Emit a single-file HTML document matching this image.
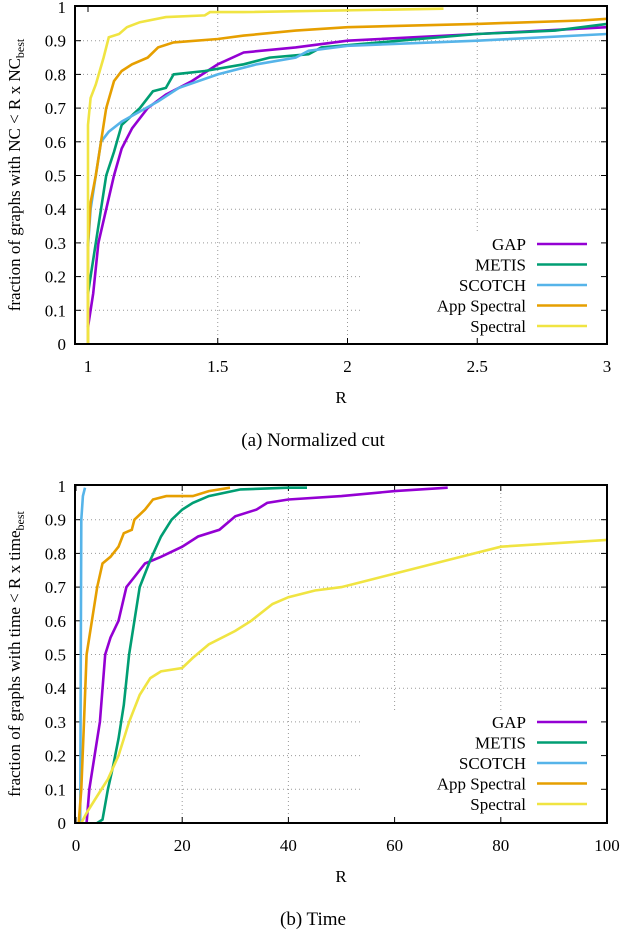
<!DOCTYPE html>
<html><head><meta charset="utf-8"><style>
body{margin:0;background:#fff;}
svg{display:block;font-family:"Liberation Serif",serif;}
</style></head><body>
<svg id="s" width="626" height="934" xmlns="http://www.w3.org/2000/svg"></svg>
<script>
const names=["GAP","METIS","SCOTCH","App Spectral","Spectral"];
const colors=["#9400d3","#009e73","#56b4e9","#e69f00","#f0e442"];
// Chart A: normalized cut  [R, fraction]
const ncGAP=[[1,0.05],[1.02,0.15],[1.04,0.3],[1.07,0.4],[1.1,0.5],[1.13,0.58],[1.17,0.64],[1.23,0.7],[1.3,0.74],[1.4,0.78],[1.5,0.83],[1.6,0.865],[1.8,0.88],[2,0.9],[2.5,0.92],[3,0.94]];
const ncMETIS=[[1,0.15],[1.01,0.2],[1.03,0.3],[1.05,0.4],[1.07,0.5],[1.1,0.57],[1.13,0.65],[1.2,0.7],[1.25,0.75],[1.3,0.76],[1.33,0.8],[1.45,0.81],[1.6,0.83],[1.7,0.85],[1.85,0.86],[1.9,0.88],[2.2,0.9],[2.5,0.92],[2.8,0.93],[3,0.95]];
const ncSCOTCH=[[1,0.29],[1.01,0.4],[1.03,0.5],[1.05,0.6],[1.08,0.63],[1.13,0.66],[1.2,0.69],[1.27,0.72],[1.35,0.76],[1.5,0.8],[1.65,0.83],[1.8,0.85],[1.85,0.87],[2,0.885],[2.5,0.9],[3,0.92]];
const ncApp=[[1,0],[1,0.3],[1.01,0.42],[1.03,0.5],[1.05,0.6],[1.07,0.7],[1.1,0.78],[1.13,0.81],[1.17,0.83],[1.23,0.85],[1.27,0.88],[1.33,0.895],[1.5,0.905],[1.6,0.915],[1.8,0.93],[2,0.94],[2.5,0.95],[2.9,0.96],[3,0.965]];
const ncSpec=[[1,0],[1,0.65],[1.01,0.73],[1.03,0.77],[1.06,0.85],[1.08,0.91],[1.12,0.92],[1.15,0.94],[1.2,0.955],[1.3,0.97],[1.45,0.975],[1.47,0.985],[1.6,0.985],[2.37,0.995]];
const xTicksA=[1,1.5,2,2.5,3];
// Chart B: time
const tGAP=[[2,0],[2.5,0.1],[3.5,0.2],[4.5,0.3],[5.5,0.5],[6.5,0.55],[8,0.6],[9.5,0.7],[11,0.73],[13,0.77],[16,0.79],[20,0.82],[23,0.85],[27,0.87],[30,0.91],[34,0.93],[36,0.95],[40,0.96],[50,0.97],[60,0.985],[70,0.995]];
const tMETIS=[[4,0],[5,0.01],[6,0.1],[7,0.17],[8,0.25],[9,0.35],[10,0.5],[11,0.6],[12,0.7],[14,0.78],[16,0.85],[18,0.9],[20,0.93],[22,0.95],[25,0.97],[31,0.99],[40,0.995],[43.5,0.995]];
const tSCOTCH=[[0.8,0],[0.9,0.5],[1.0,0.9],[1.3,0.97],[1.7,0.995]];
const tApp=[[0.5,0],[1,0.1],[1.5,0.3],[2,0.5],[3,0.6],[4,0.7],[5,0.77],[6.5,0.79],[8,0.82],[9,0.86],[10.5,0.87],[11,0.9],[13,0.93],[14.5,0.96],[17,0.97],[22,0.97],[25,0.985],[29,0.995]];
const tSpec=[[1,0],[2,0.03],[4,0.08],[6,0.13],[8,0.2],[10,0.3],[12,0.38],[14,0.43],[16,0.45],[20,0.46],[22,0.49],[25,0.53],[30,0.57],[33,0.6],[37,0.65],[40,0.67],[45,0.69],[50,0.7],[55,0.72],[60,0.74],[70,0.78],[80,0.82],[90,0.83],[100,0.84]];
const xTicksB=[0,20,40,60,80,100];
const yTicks=[0,0.1,0.2,0.3,0.4,0.5,0.6,0.7,0.8,0.9,1];

const NS="http://www.w3.org/2000/svg";
const svg=document.getElementById('s');
function mk(t,a,p){const e=document.createElementNS(NS,t);for(const k in a)e.setAttribute(k,a[k]);(p||svg).appendChild(e);return e;}

function chart(cfg){
  const g=mk('g',{});
  
  
  const L=75,R=607,T=cfg.top,B=cfg.bottom;
  const xs=v=>cfg.x0px+(v-cfg.xmin)/(cfg.xmax-cfg.xmin)*(R-cfg.x0px);
  const ys=v=>B-v*(B-T-1);
  // legend area (grid hidden behind)
  const legTop=cfg.legY-12,legLeft=360;
  // grid
  yTicks.forEach(v=>{
    if(v===0||v===1)return;
    const y=ys(v);
    const endX=(y>legTop)?legLeft:R;
    const gl=mk('line',{x1:L,x2:endX,y1:y,y2:y,stroke:'#999','stroke-width':1,'stroke-dasharray':'1,3'},g);
    
    
    mk('line',{x1:L,x2:L+6,y1:y,y2:y,stroke:'#000','stroke-width':1},g);
    mk('line',{x1:R-6,x2:R,y1:y,y2:y,stroke:'#000','stroke-width':1},g);
  });
  cfg.xTicks.forEach(v=>{
    const x=xs(v);
    if(v!==cfg.xmax && v!==cfg.xmin){
      const bot=(x>legLeft)?legTop:B;
      const gl=mk('line',{x1:x,x2:x,y1:T,y2:bot,stroke:'#999','stroke-width':1,'stroke-dasharray':'1,3'},g);
      
      
    }
    mk('line',{x1:x,x2:x,y1:B,y2:B-6,stroke:'#000'},g);
    mk('line',{x1:x,x2:x,y1:T,y2:T+6,stroke:'#000'},g);
    const t=mk('text',{x:x,y:B+28,'text-anchor':'middle','font-size':17},g);
    t.textContent=String(v);
    
    
  });
  yTicks.forEach(v=>{
    const t=mk('text',{x:66,y:ys(v)+6,'text-anchor':'end','font-size':17},g);
    t.textContent=String(v);
    
    
  });
  // series
  cfg.series.forEach((s,i)=>{
    const d=s.map((p,j)=>(j?'L':'M')+xs(Math.min(p[0],cfg.xmax)).toFixed(1)+','+ys(p[1]).toFixed(1)).join(' ');
    const pth=mk('path',{d:d,fill:'none',stroke:colors[i],'stroke-width':2.6,'stroke-linejoin':'miter'},g);
    
    
  });
  // frame
  const fr=mk('rect',{x:L,y:T,width:R-L,height:B-T,fill:'none',stroke:'#000','stroke-width':2},g);
  
  
  // legend
  names.forEach((n,i)=>{
    const y=cfg.legY+i*20.5;
    const t=mk('text',{x:526,y:y+6,'text-anchor':'end','font-size':17},g);
    t.textContent=n;
    
    
    const ln=mk('line',{x1:537,x2:587,y1:y,y2:y,stroke:colors[i],'stroke-width':2.6},g);
    
    
  });
  const xl=mk('text',{x:341,y:B+59,'text-anchor':'middle','font-size':17},g);
  xl.textContent='R';
  
  
  const cy=(T+B)/2;
  const yl=mk('text',{x:0,y:0,'text-anchor':'middle','font-size':17,transform:`translate(20,${cy}) rotate(-90)`},g);
  yl.innerHTML=cfg.ylab+`<tspan font-size="12" dy="4">best</tspan>`;
  
  
  const cap=mk('text',{x:313,y:cfg.capY,'text-anchor':'middle','font-size':19},g);
  cap.textContent=cfg.cap;
  
  
}
chart({id:'chart-normalized-cut',top:6,bottom:344,x0px:88,xmin:1,xmax:3,xTicks:xTicksA,
  series:[ncGAP,ncMETIS,ncSCOTCH,ncApp,ncSpec],legY:244,
  ylab:'fraction of graphs with NC &lt; R x NC',cap:'(a) Normalized cut',capY:446});
chart({id:'chart-time',top:485,bottom:823,x0px:76,xmin:0,xmax:100,xTicks:xTicksB,
  series:[tGAP,tMETIS,tSCOTCH,tApp,tSpec],legY:722,
  ylab:'fraction of graphs with time &lt; R x time',cap:'(b) Time',capY:925});
</script>
</body></html>
